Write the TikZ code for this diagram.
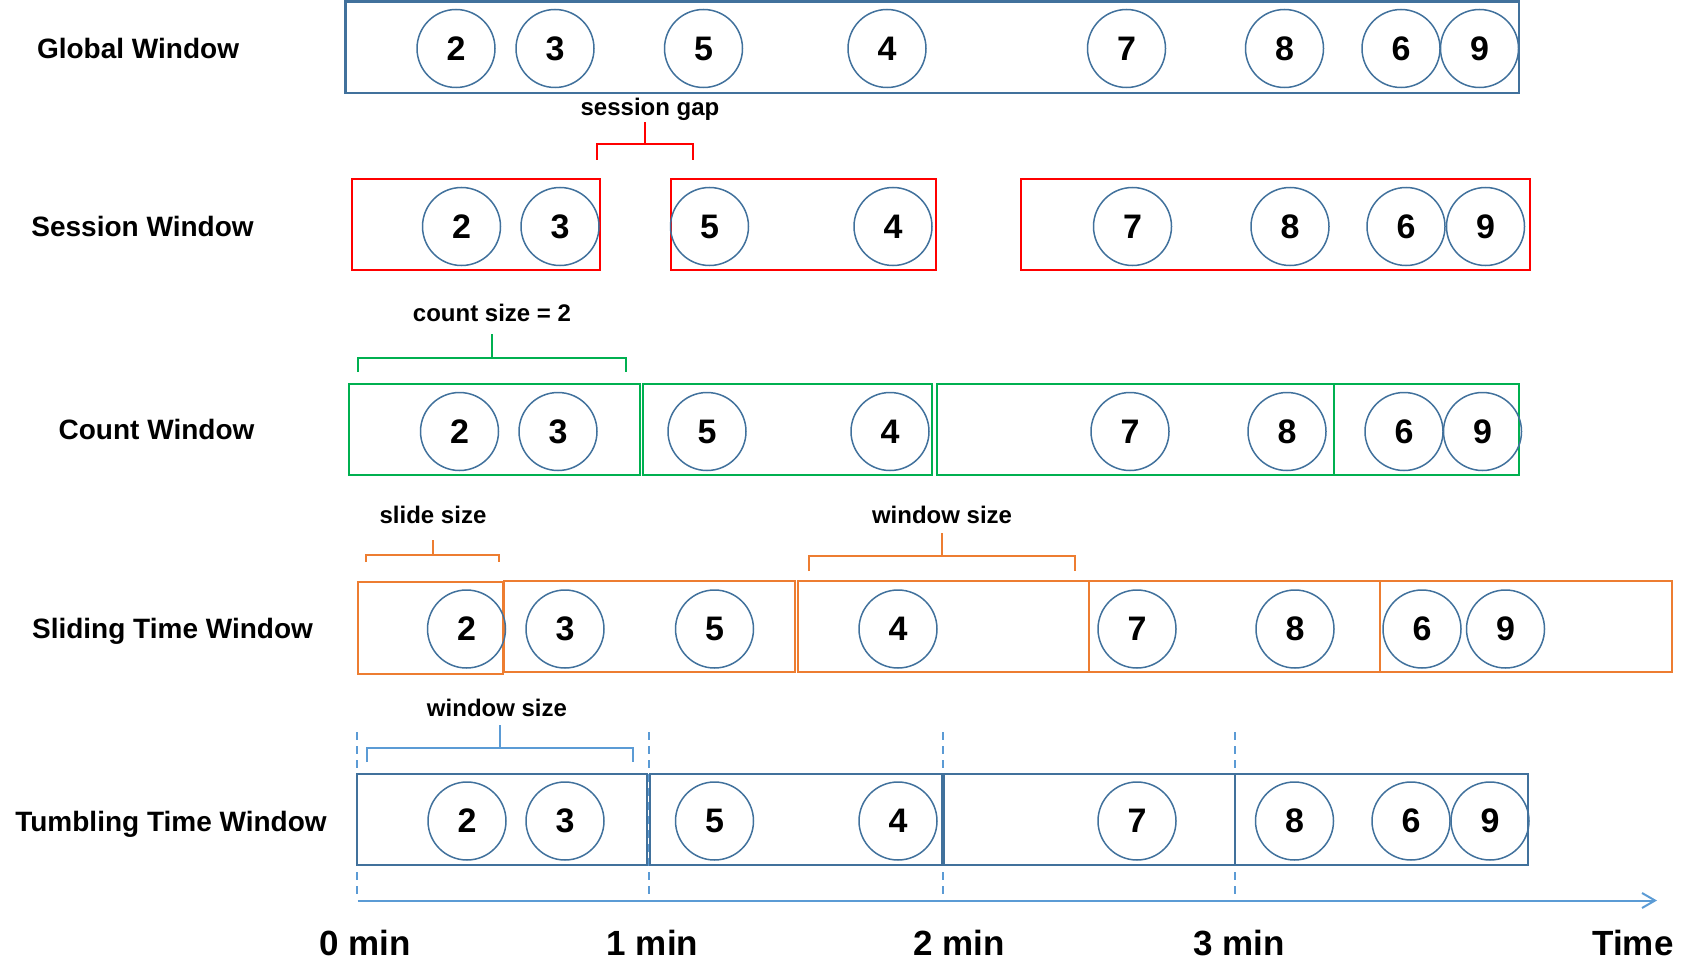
\documentclass[tikz,border=0pt]{standalone}
\usepackage{fontspec}
\setmainfont{Liberation Sans}
\usetikzlibrary{arrows.meta}
\definecolor{evtblue}{HTML}{41719C}
\definecolor{gapred}{HTML}{FF0000}
\definecolor{cntgreen}{HTML}{00B050}
\definecolor{slideorange}{HTML}{ED7D31}
\definecolor{axisblue}{HTML}{5B9BD5}
\tikzset{
	evt/.style={circle, draw=evtblue, line width=0.75pt, minimum size=39pt, inner sep=0pt, font=\fontsize{17}{17}\selectfont\bfseries},
	rowlabel/.style={anchor=base, font=\fontsize{14}{14}\selectfont\bfseries},
	sizelabel/.style={anchor=base, font=\fontsize{12}{12}\selectfont\bfseries},
	ticklabel/.style={anchor=base, font=\fontsize{17.5}{17.5}\selectfont\bfseries},
	winbox/.style={line width=1pt},
}
\def\sizebrace[#1](#2:#3:#4:#5:#6){\draw[#1] (#2,#5) -- (#2,#4) -- (#3,#4) -- (#3,#5); \draw[#1] ({(#2+#3)/2},#4) -- ({(#2+#3)/2},#6);}

\begin{document}
\begin{tikzpicture}[x=0.5pt, y=-0.5pt]
			%%%%% START %%%%%
			\useasboundingbox (0,0) rectangle (1692,974);
			
			% global window
			\node[rowlabel] (lglobal) at (138,59) {Global Window};
			\draw[winbox, draw=evtblue, line width=1.2pt] (345.5,1.5) rectangle (1519,93);
			\node[evt] (g2) at (456,48.5) {2};
			\node[evt] (g3) at (555,48.5) {3};
			\node[evt] (g5) at (703.5,48.5) {5};
			\node[evt] (g4) at (887,48.5) {4};
			\node[evt] (g7) at (1126.5,48.5) {7};
			\node[evt] (g8) at (1284.5,48.5) {8};
			\node[evt] (g6) at (1401,48.5) {6};
			\node[evt] (g9) at (1479.5,48.5) {9};
			
			% session window
			\node[sizelabel] (lgap) at (650,116) {session gap};
			\sizebrace[line width=1pt, draw=gapred](597:693:144.5:160:122)
			\node[rowlabel] (lsession) at (142.5,236.5) {Session Window};
			\draw[winbox, draw=gapred] (351.5,179) rectangle (600,270);
			\draw[winbox, draw=gapred] (670.5,179) rectangle (936,270);
			\draw[winbox, draw=gapred] (1020.5,179) rectangle (1530,270);
			\node[evt] (s2) at (461.5,226.5) {2};
			\node[evt] (s3) at (560,226.5) {3};
			\node[evt] (s5) at (709.5,226.5) {5};
			\node[evt] (s4) at (893,226.5) {4};
			\node[evt] (s7) at (1132.5,226.5) {7};
			\node[evt] (s8) at (1290,226.5) {8};
			\node[evt] (s6) at (1406,226.5) {6};
			\node[evt] (s9) at (1485.5,226.5) {9};
			
			% count window
			\node[sizelabel] (lcount) at (492,321) {count size = 2};
			\sizebrace[line width=1pt, draw=cntgreen](358:625.5:357.5:372:334)
			\node[rowlabel] (lcountwin) at (156.5,439.5) {Count Window};
			\draw[winbox, draw=cntgreen] (348.5,384) rectangle (640,475);
			\draw[winbox, draw=cntgreen] (642.5,384) rectangle (932,475);
			\draw[winbox, draw=cntgreen] (936.5,384) rectangle (1333.5,475);
			\draw[winbox, draw=cntgreen] (1333.5,384) rectangle (1519,475);
			\node[evt] (c2) at (459.5,431.5) {2};
			\node[evt] (c3) at (558,431.5) {3};
			\node[evt] (c5) at (707,431.5) {5};
			\node[evt] (c4) at (890,431.5) {4};
			\node[evt] (c7) at (1130,431.5) {7};
			\node[evt] (c8) at (1287,431.5) {8};
			\node[evt] (c6) at (1404,431.5) {6};
			\node[evt] (c9) at (1482.5,431.5) {9};
			
			% sliding time window
			\node[sizelabel] (lslide) at (433,523) {slide size};
			\sizebrace[line width=1pt, draw=slideorange](366:499:555:562:540)
			\node[sizelabel] (lslidewin) at (942,523) {window size};
			\sizebrace[line width=1pt, draw=slideorange](809:1075:556:571:533)
			\node[rowlabel] (lsliding) at (172.5,638.5) {Sliding Time Window};
			\draw[winbox, draw=slideorange] (357.5,582) rectangle (503,674);
			\draw[winbox, draw=slideorange] (504,581) rectangle (795,672);
			\draw[winbox, draw=slideorange] (797.5,581) rectangle (1088.5,672);
			\draw[winbox, draw=slideorange] (1088.5,581) rectangle (1380,672);
			\draw[winbox, draw=slideorange] (1380,581) rectangle (1671.5,672);
			\node[evt] (sl2) at (466.5,629) {2};
			\node[evt] (sl3) at (565,629) {3};
			\node[evt] (sl5) at (714.5,629) {5};
			\node[evt] (sl4) at (898,629) {4};
			\node[evt] (sl7) at (1137,629) {7};
			\node[evt] (sl8) at (1295,629) {8};
			\node[evt] (sl6) at (1422,629) {6};
			\node[evt] (sl9) at (1505.5,629) {9};
			
			% tumbling time window
			\node[sizelabel] (ltumblewin) at (497,716) {window size};
			\sizebrace[line width=1pt, draw=axisblue](366.5:632.5:748:762:725)
			\draw[axisblue, line width=1pt, dash pattern=on 4pt off 3pt] (356.5,732) -- (356.5,897);
			\draw[axisblue, line width=1pt, dash pattern=on 4pt off 3pt] (648.5,732) -- (648.5,897);
			\draw[axisblue, line width=1pt, dash pattern=on 4pt off 3pt] (943,732) -- (943,897);
			\draw[axisblue, line width=1pt, dash pattern=on 4pt off 3pt] (1235,732) -- (1235,897);
			\node[rowlabel] (ltumbling) at (171,831.5) {Tumbling Time Window};
			\draw[winbox, draw=evtblue] (356.5,774) rectangle (646.5,865);
			\draw[winbox, draw=evtblue] (649.5,774) rectangle (941.5,865);
			\draw[winbox, draw=evtblue] (944,774) rectangle (1235,865);
			\draw[winbox, draw=evtblue] (1235,774) rectangle (1528,865);
			\node[evt] (t2) at (467,821) {2};
			\node[evt] (t3) at (565,821) {3};
			\node[evt] (t5) at (714.5,821) {5};
			\node[evt] (t4) at (898,821) {4};
			\node[evt] (t7) at (1137,821) {7};
			\node[evt] (t8) at (1294.5,821) {8};
			\node[evt] (t6) at (1411,821) {6};
			\node[evt] (t9) at (1490,821) {9};
			
			% time axis
			\coordinate (axstart) at (357.5,900.5);
			\coordinate (axend) at (1657,900.5);
			\draw[axisblue, line width=1pt, -{Straight Barb[length=6.5pt, width=7.5pt]}] (axstart) -- (axend);
			\node[ticklabel] (min0) at (365,955) {0 min};
			\node[ticklabel] (min1) at (652.5,955) {1 min};
			\node[ticklabel] (min2) at (959,955) {2 min};
			\node[ticklabel] (min3) at (1239,955) {3 min};
			\node[ticklabel] (ltime) at (1633,955) {Time};
			
			%%%%% END %%%%%
\end{tikzpicture}
\end{document}
